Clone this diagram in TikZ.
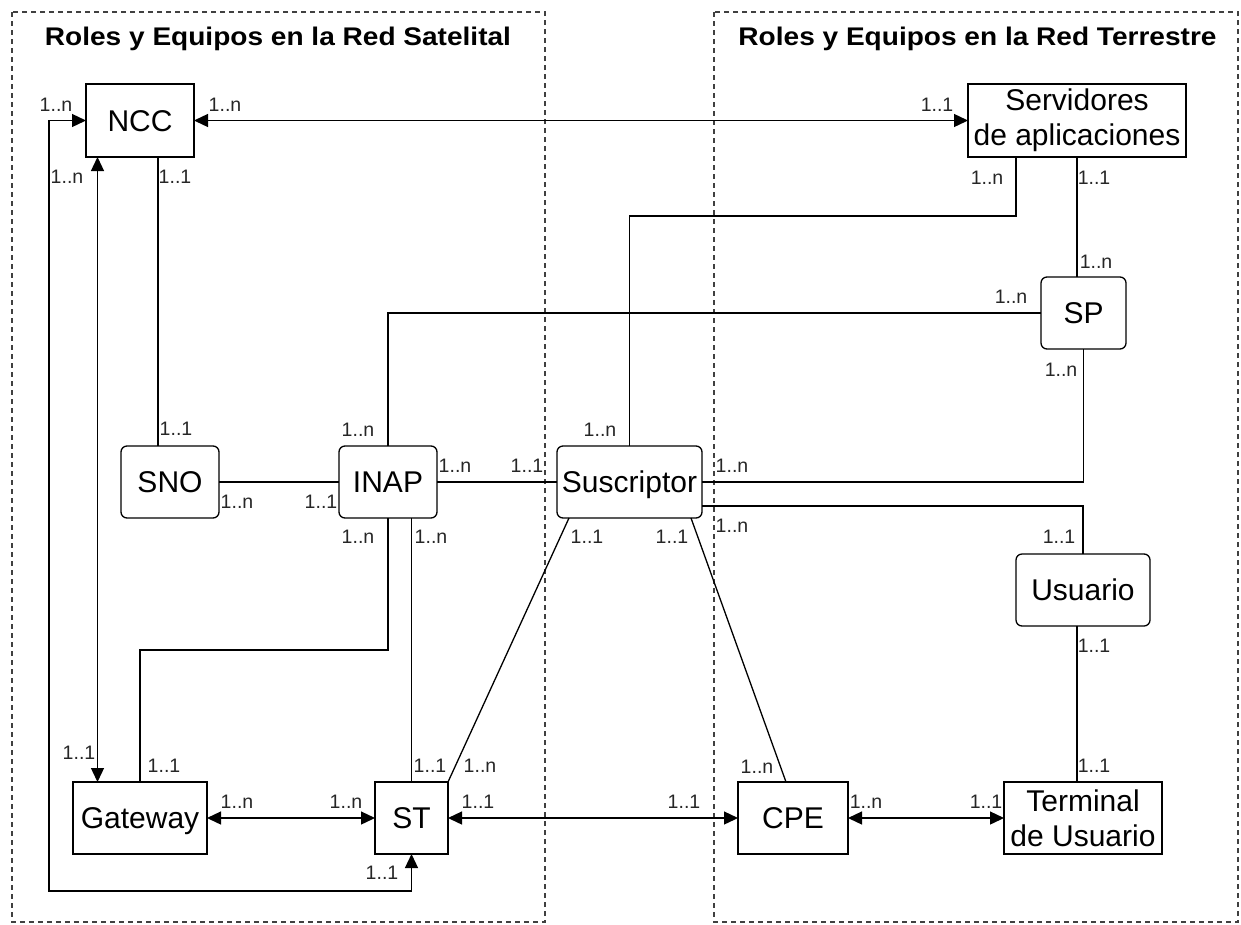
\documentclass[tikz,border=0pt]{standalone}
\usepackage{fontspec}
\usepackage{graphicx}
\setmainfont{Liberation Sans}
\usetikzlibrary{arrows.meta,calc}
\begin{document}
\begin{tikzpicture}[x=1pt,y=-1pt,
  box/.style={draw,line width=1.3pt,inner sep=0pt,outer sep=0pt,font=\fontsize{30}{35}\selectfont,align=center},
  one/.style={text height=21.5pt,text depth=0pt},
  rbox/.style={box,rounded corners=6pt},
  lbl/.style={inner sep=0pt,font=\fontsize{19.5}{20}\selectfont,text=black!85},
  conn/.style={line width=1.3pt},
  dconn/.style={conn,{Triangle[length=14pt,width=13pt]}-{Triangle[length=14pt,width=13pt]}},
  area/.style={draw=black!75,line width=1.2pt,dash pattern=on 5pt off 4pt},
  title/.style={font=\bfseries\fontsize{25.5}{28}\selectfont,anchor=base,inner sep=0pt}]
\useasboundingbox (0,0) rectangle (1241,924);
\fill[white] (0,0) rectangle (1241,924);

% areas
\draw[area] (12,12) rectangle (545,922);
\draw[area] (714,12) rectangle (1238,922);
\node[title] (t1) at (278,45) {\scalebox{1.1}[1]{Roles y Equipos en la Red Satelital}};
\node[title] (t2) at (977.5,45) {\scalebox{1.1}[1]{Roles y Equipos en la Red Terrestre}};

% nodes
\node[box,one,minimum width=108pt,minimum height=73pt] (NCC) at (140,120.5) {NCC};
\node[box,minimum width=218pt,minimum height=73pt] (SRV) at (1077,120.5) {Servidores\\de aplicaciones};
\node[rbox,one,minimum width=85pt,minimum height=72pt] (SP) at (1083.5,313) {SP};
\node[rbox,one,minimum width=98pt,minimum height=72pt] (SNO) at (170,482) {SNO};
\node[rbox,one,minimum width=98pt,minimum height=72pt] (INAP) at (388,482) {INAP};
\node[rbox,one,minimum width=145pt,minimum height=72pt] (SUS) at (629.5,482) {Suscriptor};
\node[rbox,one,minimum width=134pt,minimum height=72pt] (USU) at (1083,590) {Usuario};
\node[box,one,minimum width=134pt,minimum height=72pt] (GW) at (140,818) {Gateway};
\node[box,one,minimum width=73pt,minimum height=72pt] (ST) at (411.5,818) {ST};
\node[box,one,minimum width=110pt,minimum height=72pt] (CPE) at (793,818) {CPE};
\node[box,minimum width=158pt,minimum height=72pt] (TU) at (1083,818) {Terminal\\de Usuario};

% helper coordinates
\coordinate (loopL) at (49,891);
\coordinate (xA) at (97.5,0);
\coordinate (xB) at (158,0);
\coordinate (yG) at (0,650);
\coordinate (xS) at (1016,0);
\coordinate (yS) at (0,216);
\coordinate (yU) at (0,506);
\coordinate (xT) at (1077,0);

% connectors
\draw[dconn] (NCC.east) -- (SRV.west);
\draw[dconn] (NCC.west) -| (loopL) -| (ST.south);
\draw[dconn] (NCC.south -| xA) -- (GW.north -| xA);
\draw[conn] (NCC.south -| xB) -- (SNO.north -| xB);
\draw[conn] (SNO.east) -- (INAP.west);
\draw[conn] (INAP.north) |- (SP.west);
\draw[conn] (INAP.east) -- (SUS.west);
\draw[conn] (INAP.south) -- (INAP.south |- yG) -| (GW.north);
\draw[conn] (INAP.south -| ST.north) -- (ST.north);
\draw[conn] (SRV.south -| xS) -- (xS |- yS) -| (SUS.north);
\draw[conn] (SRV.south) -- (SRV.south |- SP.north);
\draw[conn] (SP.south) |- (SUS.east);
\draw[conn] (SUS.east |- yU) -| (USU.north);
\draw[conn] (USU.south -| xT) -- (TU.north -| xT);
\draw[conn] ([xshift=12pt]SUS.south west) -- (ST.north east);
\draw[conn] ([xshift=-11pt]SUS.south east) -- ([xshift=-7pt]CPE.north);
\draw[dconn] (GW.east) -- (ST.west);
\draw[dconn] (ST.east) -- (CPE.west);
\draw[dconn] (CPE.east) -- (TU.west);

% multiplicity labels
\node[lbl] (l1) at (56,105) {1..n};
\node[lbl] (l2) at (225,105) {1..n};
\node[lbl] (l3) at (67,177) {1..n};
\node[lbl] (l4) at (175,177) {1..1};
\node[lbl] (l5) at (937,105) {1..1};
\node[lbl] (l6) at (987,178) {1..n};
\node[lbl] (l7) at (1094,178) {1..1};
\node[lbl] (l8) at (1096,262) {1..n};
\node[lbl] (l9) at (1011,297) {1..n};
\node[lbl] (l10) at (1061,370) {1..n};
\node[lbl] (l11) at (176,429) {1..1};
\node[lbl] (l12) at (237,502) {1..n};
\node[lbl] (l13) at (321,502) {1..1};
\node[lbl] (l14) at (358,430) {1..n};
\node[lbl] (l15) at (455,466) {1..n};
\node[lbl] (l16) at (358,537) {1..n};
\node[lbl] (l17) at (431,537) {1..n};
\node[lbl] (l18) at (600,430) {1..n};
\node[lbl] (l19) at (527,466) {1..1};
\node[lbl] (l20) at (732,466) {1..n};
\node[lbl] (l21) at (732,526) {1..n};
\node[lbl] (l22) at (587,537) {1..1};
\node[lbl] (l23) at (672,537) {1..1};
\node[lbl] (l24) at (1059,537) {1..1};
\node[lbl] (l25) at (1094,646) {1..1};
\node[lbl] (l26) at (79,753) {1..1};
\node[lbl] (l27) at (164,766) {1..1};
\node[lbl] (l28) at (237,802) {1..n};
\node[lbl] (l29) at (346,802) {1..n};
\node[lbl] (l30) at (430,766) {1..1};
\node[lbl] (l31) at (480,766) {1..n};
\node[lbl] (l32) at (478,802) {1..1};
\node[lbl] (l33) at (382,873) {1..1};
\node[lbl] (l34) at (684,802) {1..1};
\node[lbl] (l35) at (757,767) {1..n};
\node[lbl] (l36) at (866,802) {1..n};
\node[lbl] (l37) at (986,802) {1..1};
\node[lbl] (l38) at (1094,766) {1..1};
\end{tikzpicture}
\end{document}
